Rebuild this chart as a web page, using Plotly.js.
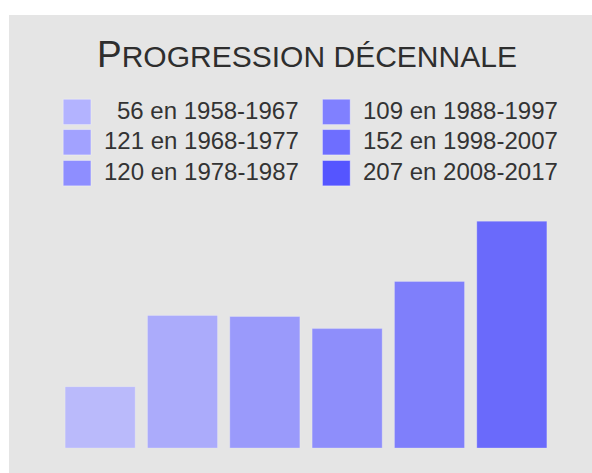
<!DOCTYPE html>
<html>
<head>
<meta charset="utf-8">
<script src="https://cdn.plot.ly/plotly-3.0.1.min.js"></script>
<style>
  html, body { margin: 0; padding: 0; background: #ffffff; }
  #chart { position: absolute; left: 9px; top: 15px; width: 583px; height: 458px; }
</style>
</head>
<body>
<div id="chart"></div>
<script>
// ---- data ----
const titleText = "Progression décennale";
const periods = ["1958-1967", "1968-1977", "1978-1987", "1988-1997", "1998-2007", "2008-2017"];
const values = [56, 121, 120, 109, 152, 207];
const colors = ["#b3b3ff", "#a2a2ff", "#8e8eff", "#8080ff", "#6e6eff", "#5555ff"];

// ---- geometry (pixels inside the chart div) ----
const DIV_W = 583, DIV_H = 458;
const L = 50.1, R = 39.4, T = 181, B = 25.3;
const W = DIV_W - L - R, H = DIV_H - T - B;
const px2x = p => (p - L) / W;
const py2y = p => 1 - (p - T) / H;

// small caps: uppercase letters at full size, lowercase letters as smaller capitals
function smallCaps(s, big, small) {
  let out = "";
  for (const ch of s) {
    const isUpper = ch !== ch.toLowerCase();
    const size = isUpper ? big : small;
    out += '<span style="font-size:' + size + 'px">' + ch.toUpperCase() + '</span>';
  }
  return out;
}

const trace = {
  type: "bar",
  x: periods,
  y: values,
  marker: { color: colors, opacity: 0.85, line: { width: 1, color: "rgba(255,255,255,0.25)" } },
  hoverinfo: "x+y",
  showlegend: false
};

// custom legend: 2 columns x 3 rows
const shapes = [];
const annotations = [];
const swW = 27.7, swH = 25.3;
const colSwX = [54.3, 313.3];
const colTextR = [291.5, 551];
const rowCY = [97, 127.3, 158.2];
values.forEach((v, i) => {
  const col = Math.floor(i / 3), row = i % 3;
  const x0 = colSwX[col], cy = rowCY[row];
  shapes.push({
    type: "rect", xref: "paper", yref: "paper",
    x0: px2x(x0), x1: px2x(x0 + swW),
    y0: py2y(cy + swH / 2), y1: py2y(cy - swH / 2),
    fillcolor: colors[i], line: { width: 1, color: "rgba(255,255,255,0.35)" }
  });
  annotations.push({
    xref: "paper", yref: "paper",
    x: px2x(colTextR[col]), y: py2y(cy - 1.5),
    xanchor: "right", yanchor: "middle",
    text: v + " en " + periods[i],
    showarrow: false,
    font: { family: "Liberation Sans, Arial, sans-serif", size: 24, color: "#333333" }
  });
});

annotations.push({
  xref: "paper", yref: "paper",
  x: px2x(297.5), y: py2y(40),
  xanchor: "center", yanchor: "middle",
  text: smallCaps(titleText, 37, 30),
  showarrow: false,
  font: { family: "Liberation Sans, Arial, sans-serif", size: 37, color: "#2e2e2e" }
});

const layout = {
  width: DIV_W, height: DIV_H,
  margin: { l: L, r: R, t: T, b: B, pad: 0 },
  paper_bgcolor: "#e5e5e5",
  plot_bgcolor: "#e5e5e5",
  bargap: 0.149,
  xaxis: { visible: false, type: "category" },
  yaxis: { visible: false, range: [0, 230] },
  shapes: shapes,
  annotations: annotations
};

Plotly.newPlot("chart", [trace], layout, { displayModeBar: false, staticPlot: true });
</script>
</body>
</html>
